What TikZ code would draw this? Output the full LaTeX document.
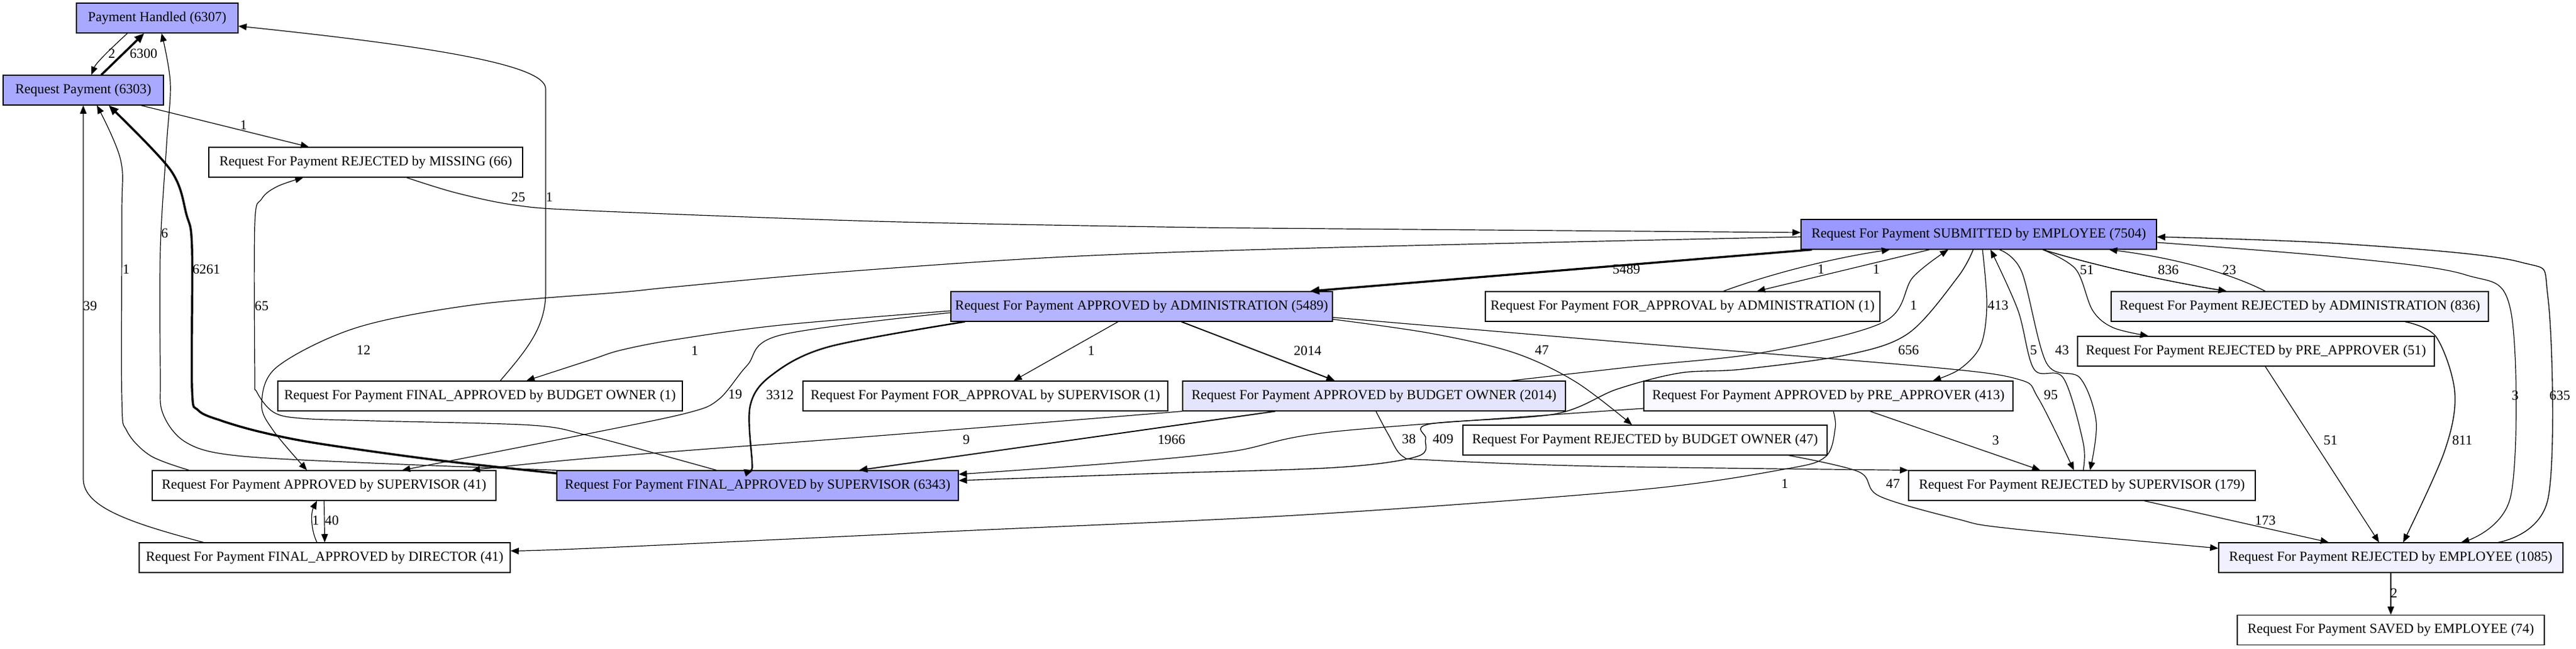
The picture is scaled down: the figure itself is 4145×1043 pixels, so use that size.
\documentclass[tikz,border=0pt]{standalone}
\usepackage{fontspec}
\setmainfont{Liberation Serif}
\usetikzlibrary{arrows.meta,calc}
\newcommand\gvf{\fontsize{16.6}{19}\selectfont}
\tikzset{
  nd/.style={draw, line width=0.9pt, rectangle, minimum height=36pt, inner sep=0pt, font=\gvf},
  cf/.style={fill={rgb,255:red,#1;green,#1;blue,255}},
  wd/.style={minimum width=#1*0.75pt},
  ed/.style={-{Triangle[length=9pt 1, width=7pt 1]}, line width=0.9pt},
  lb/.style={font=\gvf, inner sep=0pt},
  sm/.style={smooth, tension=0.55}
}
\begin{document}
\begin{tikzpicture}[x=0.75pt,y=-0.75pt]
\useasboundingbox (0,0) rectangle (4145,1043);
% nodes
\node[nd,cf=169,wd=260] (ph) at (253,29) {Payment Handled (6307)};
\node[nd,cf=169,wd=258] (rp) at (134,145) {Request Payment (6303)};
\node[nd,cf=254,wd=505] (miss) at (588.5,261) {Request For Payment REJECTED by MISSING (66)};
\node[nd,cf=255,wd=651] (fabo) at (772.5,637) {Request For Payment FINAL\_APPROVED by BUDGET OWNER (1)};
\node[nd,cf=254,wd=553] (asup) at (521.5,781) {Request For Payment APPROVED by SUPERVISOR (41)};
\node[nd,cf=254,wd=597] (fdir) at (522.5,897) {Request For Payment FINAL\_APPROVED by DIRECTOR (41)};
\node[nd,cf=169,wd=646] (fsup) at (1219,781) {Request For Payment FINAL\_APPROVED by SUPERVISOR (6343)};
\node[nd,cf=180,wd=614] (aadm) at (1837,493) {Request For Payment APPROVED by ADMINISTRATION (5489)};
\node[nd,cf=255,wd=587] (fasup) at (1585.5,637) {Request For Payment FOR\_APPROVAL by SUPERVISOR (1)};
\node[nd,cf=228,wd=616] (abo) at (2211,637) {Request For Payment APPROVED by BUDGET OWNER (2014)};
\node[nd,cf=255,wd=635] (faadm) at (2707.5,493) {Request For Payment FOR\_APPROVAL by ADMINISTRATION (1)};
\node[nd,cf=153,wd=572] (sub) at (3184,377) {Request For Payment SUBMITTED by EMPLOYEE (7504)};
\node[nd,cf=249,wd=594] (apre) at (2942,637) {Request For Payment APPROVED by PRE\_APPROVER (413)};
\node[nd,cf=254,wd=586] (rbo) at (2647,708) {Request For Payment REJECTED by BUDGET OWNER (47)};
\node[nd,cf=244,wd=607] (radm) at (3700.5,493) {Request For Payment REJECTED by ADMINISTRATION (836)};
\node[nd,cf=254,wd=574] (rpre) at (3630,565) {Request For Payment REJECTED by PRE\_APPROVER (51)};
\node[nd,cf=253,wd=558] (rsup) at (3350,781) {Request For Payment REJECTED by SUPERVISOR (179)};
\node[nd,cf=240,wd=554] (remp) at (3847,897) {Request For Payment REJECTED by EMPLOYEE (1085)};
\node[nd,cf=254,wd=494] (saved) at (3847,1013.5) {Request For Payment SAVED by EMPLOYEE (74)};

% edges
\draw[ed] ($(ph.south)+(-48,0)$) .. controls (185,72) and (155,100) .. ($(rp.north)+(13,0)$);
\draw[ed,line width=2.6pt] ($(rp.north)+(29,0)$) -- ($(ph.south)+(-21,0)$);
\draw[ed] plot[sm] coordinates {(fsup.north west) (600,745) (381,733) (300,712) (262,665) (258,600) (258,400) (268,233) (274,133) ($(ph.south)+(7,0)$)};
\draw[ed,line width=2.6pt] plot[sm] coordinates {($(fsup.north west)+(0,5)$) (702,740) (510,713) (420,695) (357,677) (319,660) (309,625) (309,400) (300,345) (274,273) ($(rp.south)+(41,0)$)};
\draw[ed] plot[sm] coordinates {($(fsup.north)+(-66,0)$) (1050,728) (944,700) (855,684) (600,677) (485,673) (440,663) (413,630) (410,600) (410,360) (421,320) (446,300) ($(miss.south)+(-100.5,0)$)};
\draw[ed] ($(rp.south)+(93,0)$) -- ($(miss.north)+(-91.5,0)$);
\draw[ed] plot[sm] coordinates {($(miss.south)+(65.5,0)$) (733,310) (829,330) (950,339) (1410,356) (1868,365) (2150,368) ($(sub.west)+(0,-3)$)};
\draw[ed] ($(fabo.north)+(32.5,0)$) .. controls (850,560) and (878,525) .. (878,470) -- (878,143) .. controls (878,110) and (750,80) .. ($(ph.east)+(0,13)$);
\draw[ed] plot[sm] coordinates {($(asup.north west)+(60,0)$) (242,733) (204,693) (196,640) (196,350) (194,257) ($(rp.south)+(22,0)$)};
\draw[ed] ($(fdir.north west)+(104,0)$) .. controls (205,840) and (134,815) .. (134,770) -- (rp.south);
\draw[ed] (asup.south) -- (fdir.north);
\draw[ed] ($(fdir.north)+(-12.5,0)$) .. controls (500,852) and (500,825) .. ($(asup.south)+(-11.5,0)$);
\draw[ed] plot[sm] coordinates {($(sub.west)+(0,4)$) (2150,398) (1715,413) (1333,439) (1080,462) (1000,470) (765,490) (574,527) (446,590) (421,650) (440,693) ($(asup.north)+(-27.5,0)$)};
\draw[ed] plot[sm] coordinates {($(aadm.west)+(0,7)$) (1256,523) (1088,546) (1000,563) (950,579) ($(fabo.north)+(74.5,0)$)};
\draw[ed] plot[sm] coordinates {($(aadm.west)+(0,10)$) (1256,539) (1202,588) (1157,642) (1107,664) (950,697) ($(asup.north)+(125.5,0)$)};
\draw[ed] plot[sm] coordinates {(abo.south west) (1426,700) (950,737) ($(asup.north)+(237.5,0)$)};
\draw[ed,line width=1.8pt] plot[sm] coordinates {($(aadm.south west)+(23,0)$) (1333,558) (1241,604) (1207,653) (1210,741) ($(fsup.north)+(-7,0)$)};
\draw[ed] ($(aadm.south)+(-38,0)$) -- ($(fasup.north)+(45.5,0)$);
\draw[ed,line width=1.4pt] ($(aadm.south)+(64,0)$) -- ($(abo.north)+(-63,0)$);
\draw[ed,line width=1.4pt] ($(abo.south)+(-159,0)$) -- ($(fsup.north)+(163,0)$);
\draw[ed] plot[sm] coordinates {($(apre.west)+(0,20)$) (2150,694) (1983,726) (1792,745) ($(fsup.east)+(0,-18)$)};
\draw[ed,line width=1pt] plot[sm] coordinates {($(sub.south)+(-9,0)$) (3150,446) (3071,536) (2971,571) (2803,594) (2703,600) (2602,626) (2502,666) (2301,682) (2294,706) (2281,734) (2150,752) (1850,762) ($(fsup.east)+(0,-8)$)};
\draw[ed] plot[sm] coordinates {($(sub.south)+(6,0)$) (3197,490) (3187,556) (3153,594) ($(apre.north)+(168,0)$)};
\draw[ed] plot[sm] coordinates {($(abo.north)+(220,0)$) (2636,589) (2837,567) (3031,518) (3078,446) ($(sub.south)+(-49,0)$)};
\draw[ed,line width=2.5pt] ($(sub.south west)+(18,0)$) -- ($(aadm.north east)+(-37,0)$);
\draw[ed] ($(faadm.north)+(65.5,0)$) .. controls (2850,440) and (2950,415) .. ($(sub.south)+(-143,0)$);
\draw[ed] ($(sub.south)+(-79,0)$) -- ($(faadm.north)+(119.5,0)$);
\draw[ed] plot[sm] coordinates {($(aadm.south east)+(0,-4)$) (2301,536) (2435,567) (2535,614) ($(rbo.north)+(-21,0)$)};
\draw[ed] plot[sm] coordinates {($(aadm.south east)+(0,-7)$) (2620,551) (3100,590) (3247,610) (3280,641) ($(rsup.north)+(-13,0)$)};
\draw[ed] plot[sm] coordinates {($(rsup.north)+(2,0)$) (3352,712) (3320,608) (3273,594) (3247,499) ($(sub.south)+(19,0)$)};
\draw[ed] plot[sm] coordinates {($(sub.south)+(33,0)$) (3253,437) (3293,584) (3347,608) (3373,679) ($(rsup.north)+(13,0)$)};
\draw[ed] ($(apre.south)+(67,0)$) -- ($(rsup.north)+(-67,0)$);
\draw[ed] plot[sm] coordinates {($(apre.south)+(8,0)$) (2953,689) (2937,735) (2870,755) (2636,788) (2100,828) (1525,855) (950,882) ($(fdir.east)+(0,-11)$)};
\draw[ed] plot[sm] coordinates {($(abo.south)+(3,0)$) (2234,699) (2257,734) (2301,740) (2569,750) (rsup.north west)};
\draw[ed] plot[sm] coordinates {($(rbo.south)+(231,0)$) (2991,759) (3024,798) (3150,835) (3233,850) ($(remp.west)+(0,-15)$)};
\draw[ed] ($(rsup.south)+(100,0)$) -- ($(remp.north)+(-100,0)$);
\draw[ed,line width=1.1pt] ($(sub.south)+(103,0)$) .. controls (3380,430) and (3500,455) .. ($(radm.north)+(-117.5,0)$);
\draw[ed] ($(radm.north)+(-55.5,0)$) .. controls (3590,440) and (3500,415) .. ($(sub.south east)+(-77,0)$);
\draw[ed] plot[sm] coordinates {($(sub.south)+(103,0)$) (3340,433) (3367,499) (3400,527) ($(rpre.north)+(-173,0)$)};
\draw[ed] ($(rpre.south)+(15,0)$) -- ($(remp.north)+(-19,0)$);
\draw[ed,line width=1.05pt] plot[sm] coordinates {($(radm.south)+(169.5,0)$) (3920,542) (3950,632) (3933,727) ($(remp.north)+(20,0)$)};
\draw[ed] plot[sm] coordinates {($(sub.east)+(0,13)$) (3767,414) (3967,442) (4040,500) (4040,798) ($(remp.north)+(113,0)$)};
\draw[ed,line width=1pt] plot[sm] coordinates {($(remp.north)+(173,0)$) (4100,802) (4100,480) (4053,421) (3767,392) ($(sub.east)+(0,4)$)};
\draw[ed] (remp.south) -- (saved.north);

% labels
\node[lb] (l1) at (180,86) {2};
\node[lb] (l2) at (231,86) {6300};
\node[lb] (l3) at (392,201) {1};
\node[lb] (l4) at (834,317) {25};
\node[lb] (l5) at (884,317) {1};
\node[lb] (l6) at (265,375) {6};
\node[lb] (l7) at (203,433) {1};
\node[lb] (l8) at (332,433) {6261};
\node[lb] (l9) at (145,492) {39};
\node[lb] (l10) at (421,492) {65};
\node[lb] (l11) at (585,563) {12};
\node[lb] (l12) at (1118,564) {1};
\node[lb] (l13) at (1183,634) {19};
\node[lb] (l14) at (1255,635) {3312};
\node[lb] (l15) at (1756,564) {1};
\node[lb] (l16) at (2104,564) {2014};
\node[lb] (l17) at (1555,707) {9};
\node[lb] (l18) at (1885,707) {1966};
\node[lb] (l19) at (2617,433) {5489};
\node[lb] (l20) at (2930,433) {1};
\node[lb] (l21) at (3019,433) {1};
\node[lb] (l22) at (3079,491) {1};
\node[lb] (l23) at (2481,563) {47};
\node[lb] (l24) at (3071,563) {656};
\node[lb] (l25) at (3215,491) {413};
\node[lb] (l26) at (3358,434) {51};
\node[lb] (l27) at (3489,434) {836};
\node[lb] (l28) at (3587,434) {23};
\node[lb] (l29) at (3272,563) {5};
\node[lb] (l30) at (3318,563) {43};
\node[lb] (l31) at (3300,635) {95};
\node[lb] (l32) at (3211,708) {3};
\node[lb] (l33) at (2267,706) {38};
\node[lb] (l34) at (2322,706) {409};
\node[lb] (l35) at (2872,778) {1};
\node[lb] (l36) at (3046,778) {47};
\node[lb] (l37) at (3750,708) {51};
\node[lb] (l38) at (3962,708) {811};
\node[lb] (l39) at (4047,636) {3};
\node[lb] (l40) at (4119,636) {635};
\node[lb] (l41) at (3645,837) {173};
\node[lb] (l42) at (3852,954) {2};
\node[lb] (l43) at (508,837) {1};
\node[lb] (l44) at (534,837) {40};
\end{tikzpicture}
\end{document}
